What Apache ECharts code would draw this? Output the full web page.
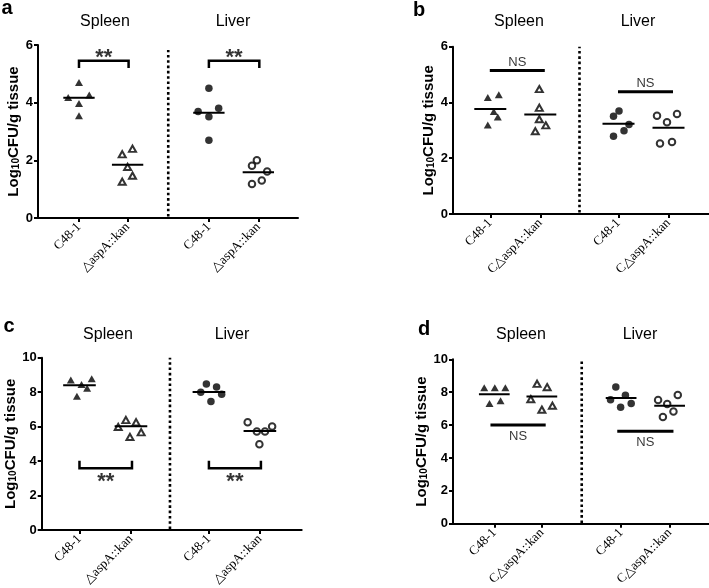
<!DOCTYPE html>
<html><head><meta charset="utf-8">
<script src="https://cdn.jsdelivr.net/npm/echarts@6/dist/echarts.min.js"></script>
<style>html,body{margin:0;padding:0;background:#fff}#c{width:709px;height:588px}</style>
</head><body><div id="c"></div>
<script>
// ---------- data ----------
const organs = ['Spleen', 'Liver'];
const panelLetters = ['a', 'b', 'c', 'd'];
const catsAC = ['C48-1', '△aspA::kan', 'C48-1', '△aspA::kan'];
const catsBD = ['C48-1', 'C△aspA::kan', 'C48-1', 'C△aspA::kan'];
const yMaxAB = 6, yMaxCD = 10, yStep = 2;

// Log10 CFU/g tissue, groups: spleen WT, spleen mutant, liver WT, liver mutant
const aValues = [[4.70, 4.18, 4.27, 3.97, 3.55], [2.21, 2.40, 1.77, 1.26, 1.47], [4.50, 3.69, 3.81, 3.51, 2.70], [2.00, 1.81, 1.61, 1.18, 1.30]];
const aJitter = [[0, -0.22, 0.21, 0, 0], [-0.11, 0.10, 0, -0.11, 0.10], [0, -0.22, 0.20, 0, 0], [-0.03, -0.13, 0.18, -0.13, 0.07]];
const aMedians = [4.17, 1.85, 3.65, 1.59];
const aSig = ['**', '**'];
const aSigLevel = [5.45, 5.45];

const bValues = [[4.18, 4.28, 3.68, 3.48, 3.19], [4.48, 3.81, 3.40, 3.18, 2.97], [3.69, 3.51, 3.21, 2.99, 2.79], [3.52, 3.29, 3.59, 2.53, 2.58]];
const bJitter = [[-0.05, 0.17, 0.07, 0.15, -0.05], [-0.02, -0.02, -0.02, 0.11, -0.10], [0.01, -0.10, 0.21, 0.11, -0.10], [-0.23, -0.03, 0.17, -0.17, 0.07]];
const bMedians = [3.77, 3.57, 3.24, 3.09];
const bSig = ['NS', 'NS'];
const bSigLevel = [5.15, 4.38];

const cValues = [[8.71, 8.45, 8.78, 8.22, 7.76], [5.98, 6.38, 6.25, 5.40, 5.67], [8.47, 8.30, 7.99, 7.88, 7.45], [6.25, 5.71, 5.71, 6.00, 4.97]];
const cJitter = [[-0.17, 0.04, 0.24, 0.15, -0.05], [-0.25, -0.10, 0.10, -0.02, 0.20], [-0.05, 0.15, -0.16, 0.25, 0.04], [-0.24, -0.06, 0.10, 0.24, -0.01]];
const cMedians = [8.40, 6.02, 8.01, 5.75];
const cSig = ['**', '**'];
const cSigLevel = [3.58, 3.58];

const dValues = [[8.27, 8.27, 8.27, 7.32, 7.48], [8.51, 8.31, 7.58, 6.94, 7.18], [8.31, 7.82, 7.54, 7.32, 7.08], [7.52, 7.28, 7.83, 6.49, 6.82]];
const dJitter = [[-0.21, 0.01, 0.23, -0.10, 0.13], [-0.10, 0.11, -0.23, 0, 0.22], [-0.11, 0.09, -0.22, 0.21, -0.01], [-0.24, -0.05, 0.17, -0.14, 0.08]];
const dMedians = [7.88, 7.74, 7.64, 7.18];
const dSig = ['NS', 'NS'];
const dSigLevel = [6.01, 5.63];

// ---------- layout / style ----------
const FONT = 'Liberation Sans, Arial, sans-serif';
const SERIF = 'Liberation Serif, Times New Roman, serif';
const panels = [
  { grid: { left: 38, top: 45, width: 260, height: 173 }, yMax: yMaxAB, xMax: 5.31, catPos: [0.837, 1.83, 3.49, 4.50], div: 2.66, divTop: 5.83,
    cats: catsAC, values: aValues, jitter: aJitter, medians: aMedians, sig: aSig, sigLevel: aSigLevel,
    kind: 'bracket', leg: -0.25, pad: [0, 0.02], textDy: -2.5,
    titleY: 21.7, organX: [105, 233], letter: { x: 7, y: 8 } },
  { grid: { left: 453, top: 46.7, width: 256, height: 167.3 }, yMax: yMaxAB, xMax: 5.12, catPos: [0.746, 1.746, 3.31, 4.31], div: 2.53, divTop: 6,
    cats: catsBD, values: bValues, jitter: bJitter, medians: bMedians, sig: bSig, sigLevel: bSigLevel,
    kind: 'bar', leg: 0, pad: [-0.01, 0.09], textDy: -8,
    titleY: 21.7, organX: [519, 638], letter: { x: 419, y: 10 } },
  { grid: { left: 41.7, top: 357.7, width: 260, height: 172.3 }, yMax: yMaxCD, xMax: 5.10, catPos: [0.741, 1.751, 3.28, 4.28], div: 2.516, divTop: 10,
    cats: catsAC, values: cValues, jitter: cJitter, medians: cMedians, sig: cSig, sigLevel: cSigLevel,
    kind: 'bracket', leg: 0.44, pad: [0, 0.02], textDy: 14,
    titleY: 334.5, organX: [108, 232], letter: { x: 9, y: 326 } },
  { grid: { left: 453, top: 359.3, width: 256, height: 168 }, yMax: yMaxCD, xMax: 5.33, catPos: [0.86, 1.85, 3.50, 4.51], div: 2.68, divTop: 10,
    cats: catsBD, values: dValues, jitter: dJitter, medians: dMedians, sig: dSig, sigLevel: dSigLevel,
    kind: 'bar', leg: 0, pad: [-0.08, 0.08], textDy: 11,
    titleY: 335, organX: [521, 640], letter: { x: 424, y: 329 } }
];
const MED_HALF = 0.32;

const option = {
  backgroundColor: '#fff',
  animation: false,
  title: [],
  grid: [], xAxis: [], yAxis: [], series: []
};

panels.forEach((p, i) => {
  option.grid.push(Object.assign({ containLabel: false }, p.grid));
  option.xAxis.push({
    type: 'value', gridIndex: i, min: 0, max: p.xMax,
    axisLine: { show: true, onZero: false, lineStyle: { color: '#000', width: 2 } },
    axisTick: { show: true, length: 4, lineStyle: { color: '#000', width: 2 }, customValues: p.catPos },
    axisLabel: {
      show: true, customValues: p.catPos, rotate: 45, margin: 7,
      fontFamily: SERIF, fontSize: 13, color: '#000',
      formatter: (v) => {
        let best = 0, bd = 1e9;
        p.catPos.forEach((c, k) => { const d = Math.abs(c - v); if (d < bd) { bd = d; best = k; } });
        return p.cats[best];
      }
    },
    splitLine: { show: false }
  });
  option.yAxis.push({
    type: 'value', gridIndex: i, min: 0, max: p.yMax, interval: yStep,
    name: 'Log{sub|10}CFU/g tissue', nameLocation: 'middle', nameGap: 17,
    nameTextStyle: {
      fontFamily: FONT, fontSize: 15, fontWeight: 'bold', color: '#000',
      rich: { sub: { fontFamily: FONT, fontSize: 10, fontWeight: 'bold', color: '#000', verticalAlign: 'bottom' } }
    },
    axisLine: { show: true, lineStyle: { color: '#000', width: 2 } },
    axisTick: { show: true, length: 4, lineStyle: { color: '#000', width: 2 } },
    axisLabel: { margin: 5, fontFamily: FONT, fontSize: 13, fontWeight: 'bold', color: '#000' },
    splitLine: { show: false }
  });

  // titles
  organs.forEach((o, j) => {
    option.title.push({ text: o, left: p.organX[j], top: p.titleY, textAlign: 'center', textVerticalAlign: 'middle', padding: 0,
      textStyle: { fontFamily: FONT, fontSize: 16, fontWeight: 'normal', color: '#000' } });
  });
  option.title.push({ text: panelLetters[i], left: p.letter.x, top: p.letter.y, textAlign: 'center', textVerticalAlign: 'middle', padding: 0,
    textStyle: { fontFamily: FONT, fontSize: 20, fontWeight: 'bold', color: '#000' } });

  // points
  p.values.forEach((vals, g) => {
    const tri = g < 2, open = g % 2 === 1;
    option.series.push({
      type: 'scatter', xAxisIndex: i, yAxisIndex: i, z: 3,
      symbol: tri ? 'triangle' : 'circle',
      symbolSize: tri ? (open ? [7, 6.2] : [8, 7]) : (open ? 6.5 : 7.5),
      itemStyle: open ? { color: '#fff', borderColor: '#000', borderWidth: 2 } : { color: '#000' },
      data: vals.map((v, k) => [p.catPos[g] + p.jitter[g][k], v])
    });
    // median line
    option.series.push({
      type: 'line', xAxisIndex: i, yAxisIndex: i, z: 4, symbol: 'none', silent: true,
      lineStyle: { color: '#000', width: 2 },
      data: [[p.catPos[g] - MED_HALF, p.medians[g]], [p.catPos[g] + MED_HALF, p.medians[g]]]
    });
  });

  // dotted divider
  option.series.push({
    type: 'line', xAxisIndex: i, yAxisIndex: i, symbol: 'none', silent: true,
    lineStyle: { color: '#000', width: 2.6, type: [2.6, 2.7], cap: 'butt' },
    data: [[p.div, 0.05], [p.div, p.divTop]]
  });

  // significance marks
  organs.forEach((o, j) => {
    const x1 = p.catPos[2 * j] + p.pad[0], x2 = p.catPos[2 * j + 1] + p.pad[1], lv = p.sigLevel[j];
    const pts = p.kind === 'bracket'
      ? [[x1, lv + p.leg], [x1, lv], [x2, lv], [x2, lv + p.leg]]
      : [[x1, lv], [x2, lv]];
    option.series.push({
      type: 'line', xAxisIndex: i, yAxisIndex: i, symbol: 'none', silent: true,
      lineStyle: { color: '#000', width: p.kind === 'bracket' ? 2.5 : 3, join: 'miter' },
      data: pts
    });
    option.series.push({
      type: 'scatter', xAxisIndex: i, yAxisIndex: i, symbolSize: 0, silent: true,
      data: [[(x1 + x2) / 2, lv]],
      label: {
        show: true, position: [0, p.textDy], align: 'center', verticalAlign: 'middle',
        formatter: p.sig[j], fontFamily: FONT, color: '#000',
        fontSize: p.sig[j] === '**' ? 22 : 13, fontWeight: p.sig[j] === '**' ? 'bold' : 'normal'
      }
    });
  });
});

const chart = echarts.init(document.getElementById('c'), null, { renderer: 'canvas' });
chart.setOption(option);
</script>
</body></html>
